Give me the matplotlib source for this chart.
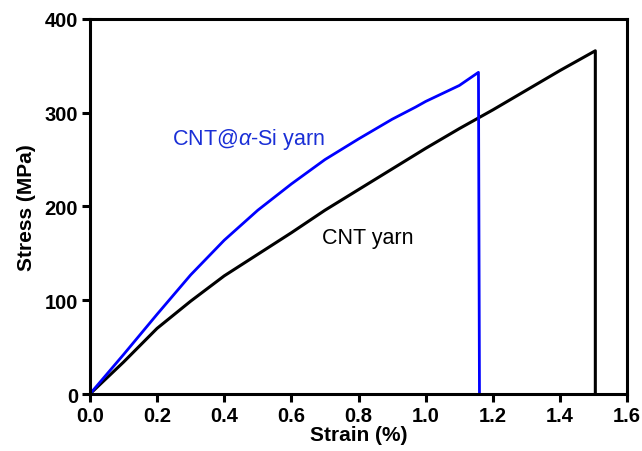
import matplotlib
matplotlib.use("Agg")
import matplotlib.pyplot as plt

plt.rcParams["font.family"] = ["Liberation Sans", "DejaVu Sans"]
plt.rcParams["mathtext.fontset"] = "custom"
plt.rcParams["mathtext.it"] = "Liberation Sans:italic"
plt.rcParams["mathtext.rm"] = "Liberation Sans"

# values (strain %, stress MPa)
cnt_strain = [0, 0.1, 0.2, 0.3, 0.4, 0.5, 0.6, 0.7, 0.8, 0.9,
              1.0, 1.1, 1.2, 1.3, 1.4, 1.505, 1.505]
cnt_stress = [0, 34, 70, 99, 126, 149, 172, 196, 218, 240,
              262, 283, 303, 324, 345, 366, 0]

si_strain = [0, 0.1, 0.2, 0.3, 0.4, 0.5, 0.6, 0.7, 0.8, 0.9,
             0.97, 1.0, 1.1, 1.157, 1.160]
si_stress = [0, 42, 85, 127, 164, 196, 224, 250, 272, 293,
             306, 312, 329, 343, 0]

x_ticks = [0.0, 0.2, 0.4, 0.6, 0.8, 1.0, 1.2, 1.4, 1.6]
y_ticks = [0, 100, 200, 300, 400]

fig = plt.figure(figsize=(6.42, 4.52), dpi=100)
ax = fig.add_axes([0.140, 0.126, 0.837, 0.830])

ax.plot(cnt_strain, cnt_stress, color="black", linewidth=2.2)
ax.plot(si_strain, si_stress, color="#0000ff", linewidth=2.0)

ax.text(0.244, 273, "CNT@$\\mathit{α}$-Si yarn", color="#1a2fd6", fontsize=15.5,
        va="center", ha="left")
ax.text(0.69, 167, "CNT yarn", color="black", fontsize=15.5, va="center", ha="left")

ax.set_xlim(0, 1.6)
ax.set_ylim(0, 400)
ax.set_xticks(x_ticks)
ax.set_xticklabels([f"{v:.1f}" for v in x_ticks])
ax.set_yticks(y_ticks)

for s in ax.spines.values():
    s.set_linewidth(2.2)
ax.tick_params(direction="out", length=5.5, width=2.2, labelsize=14.5, pad=3)
for lbl in ax.get_xticklabels() + ax.get_yticklabels():
    lbl.set_fontweight("bold")

ax.set_xlabel("Strain (%)", fontsize=15, fontweight="bold", labelpad=0)
ax.set_ylabel("Stress (MPa)", fontsize=15, fontweight="bold", labelpad=6)

fig.savefig("out.png", dpi=100)
